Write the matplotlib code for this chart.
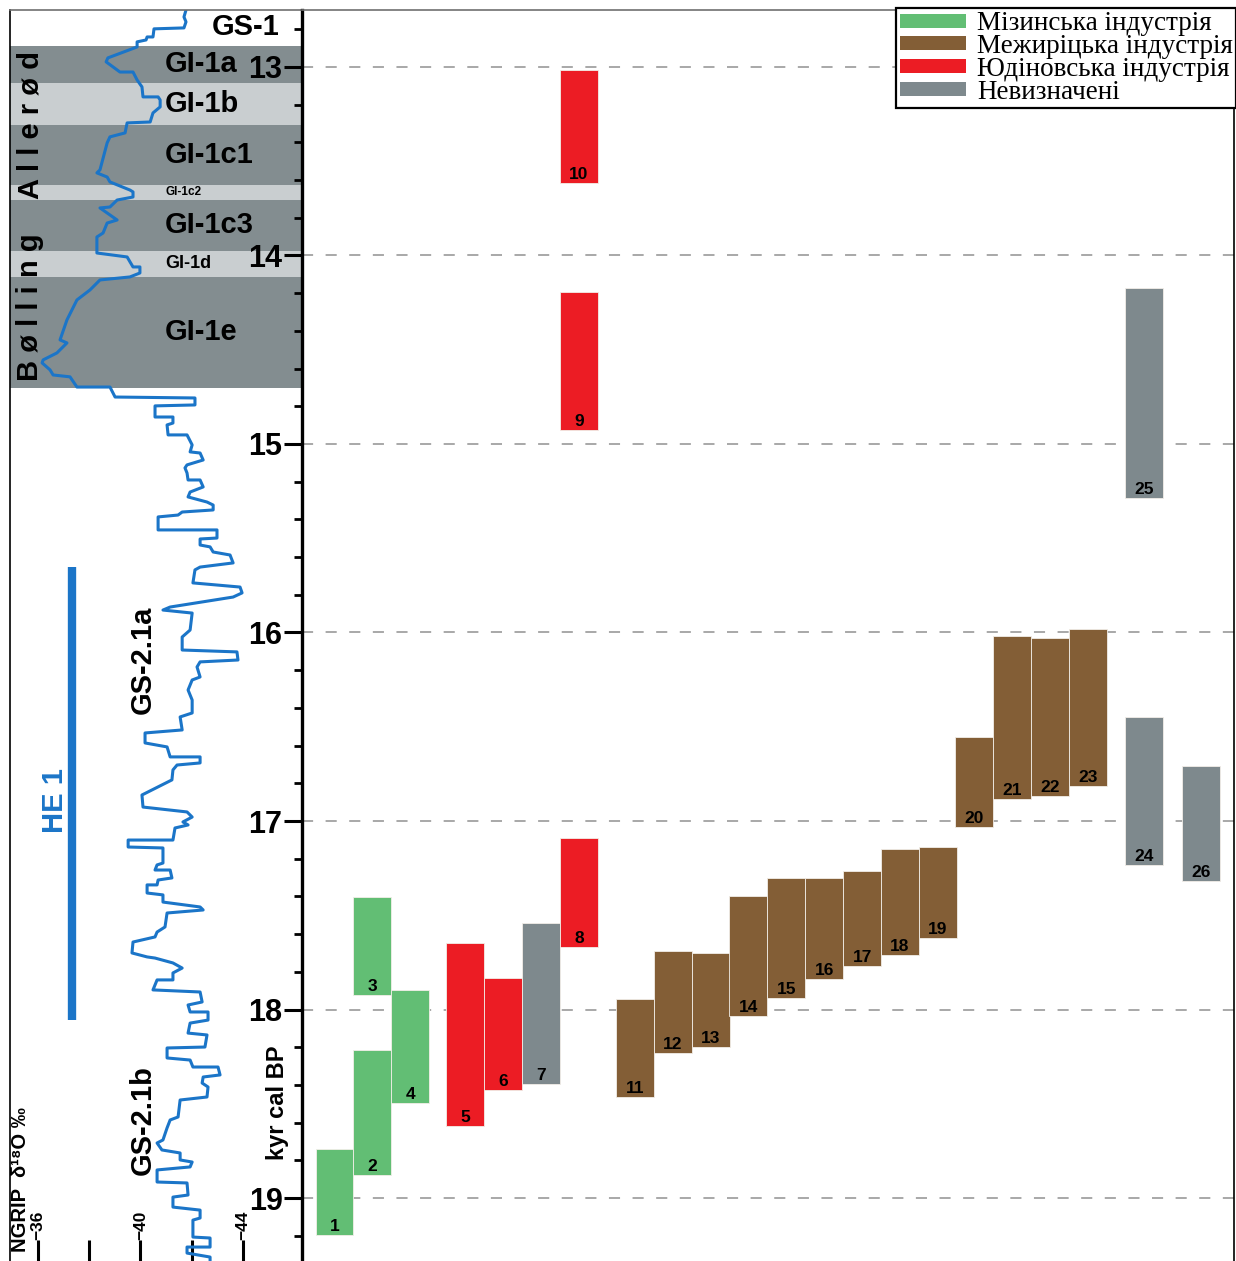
import matplotlib
matplotlib.use('Agg')
import matplotlib.pyplot as plt
from matplotlib.patches import Patch
from matplotlib.ticker import MultipleLocator

plt.rcParams['lines.scale_dashes'] = False

SANS = ['Liberation Sans', 'DejaVu Sans']
DIGITS = ['Liberation Sans Narrow', 'Liberation Sans', 'DejaVu Sans']
SERIF = ['Liberation Serif', 'DejaVu Serif']

# --- radiocarbon ranges of the sites (kyr cal BP) ---
site_ids = list(range(1, 27))
site_top = [18.74, 18.215, 17.403, 17.897, 17.647, 17.833, 17.541, 17.09, 14.194, 13.016,
            17.944, 17.69, 17.70, 17.398, 17.302, 17.302, 17.265, 17.149, 17.138, 16.554,
            16.019, 16.029, 15.981, 16.448, 14.172, 16.708]
site_bottom = [19.196, 18.878, 17.923, 18.496, 18.618, 18.427, 18.395, 17.668, 14.926, 13.615,
               18.464, 18.231, 18.199, 18.034, 17.939, 17.838, 17.769, 17.711, 17.621, 17.032,
               16.883, 16.867, 16.814, 17.233, 15.286, 17.318]
site_group = ['miz', 'miz', 'miz', 'miz', 'yud', 'yud', 'und', 'yud', 'yud', 'yud',
              'mezh', 'mezh', 'mezh', 'mezh', 'mezh', 'mezh', 'mezh', 'mezh', 'mezh', 'mezh',
              'mezh', 'mezh', 'mezh', 'und', 'und', 'und']

groups = ['miz', 'mezh', 'yud', 'und']
group_labels = ['Мізинська індустрія', 'Межиріцька індустрія',
                'Юдіновська індустрія', 'Невизначені']
group_colors = {'miz': '#62BE74', 'mezh': '#835E36', 'yud': '#EC1C24', 'und': '#7E898D'}

# horizontal slot of every bar (in bar widths)
bar_x = [0, 1, 1, 2, 3.45, 4.45, 5.45, 6.45, 6.45, 6.45, 7.92, 8.93, 9.93, 10.92, 11.92,
         12.92, 13.92, 14.92, 15.92, 16.87, 17.88, 18.88, 19.88, 21.36, 21.36, 22.85]

# --- Greenland interstadials ---
gi_names = ['GI-1a', 'GI-1b', 'GI-1c1', 'GI-1c2', 'GI-1c3', 'GI-1d', 'GI-1e']
gi_start = [12.889, 13.085, 13.308, 13.626, 13.706, 13.976, 14.114]
gi_end = [13.085, 13.308, 13.626, 13.706, 13.976, 14.114, 14.703]
gi_dark = [True, False, True, False, True, False, True]
gi_fsize = [21, 21, 21, 8.5, 21, 13, 21]

he1_start, he1_end = 15.653, 18.056

# --- NGRIP d18O record ---
ngrip_age = [12.698, 12.735, 12.761, 12.793, 12.798, 12.841, 12.841, 12.857, 12.867, 12.894,
             12.952, 12.973, 13.016, 13.027, 13.027, 13.069, 13.106, 13.159, 13.159, 13.175,
             13.212, 13.244, 13.292, 13.297, 13.350, 13.371, 13.403, 13.546, 13.562, 13.584,
             13.610, 13.653, 13.663, 13.690, 13.706, 13.743, 13.748, 13.812, 13.828, 13.881,
             13.902, 13.987, 14.008, 14.061, 14.061, 14.093, 14.114, 14.130, 14.183, 14.236,
             14.342, 14.448, 14.464, 14.517, 14.554, 14.570, 14.607, 14.634, 14.644, 14.698,
             14.698, 14.751, 14.756, 14.793, 14.798, 14.857, 14.857, 14.889, 14.899, 14.952,
             14.952, 15.005, 15.042, 15.048, 15.085, 15.111, 15.127, 15.154, 15.191, 15.191,
             15.228, 15.255, 15.281, 15.308, 15.324, 15.350, 15.361, 15.377, 15.387, 15.456,
             15.456, 15.499, 15.504, 15.536, 15.546, 15.573, 15.589, 15.631, 15.653, 15.668,
             15.737, 15.759, 15.790, 15.812, 15.865, 15.881, 15.897, 15.987, 16.024, 16.093,
             16.103, 16.146, 16.156, 16.183, 16.236, 16.252, 16.305, 16.358, 16.427, 16.448,
             16.517, 16.533, 16.586, 16.607, 16.660, 16.660, 16.692, 16.703, 16.729, 16.782,
             16.862, 16.926, 16.952, 16.979, 17.005, 17.021, 17.037, 17.101, 17.101, 17.138,
             17.143, 17.223, 17.233, 17.260, 17.260, 17.302, 17.313, 17.339, 17.339, 17.382,
             17.392, 17.430, 17.456, 17.472, 17.488, 17.562, 17.589, 17.615, 17.642, 17.700,
             17.721, 17.727, 17.753, 17.780, 17.806, 17.843, 17.843, 17.896, 17.907, 17.960,
             17.976, 18.013, 18.013, 18.056, 18.072, 18.125, 18.135, 18.199, 18.204, 18.257,
             18.268, 18.305, 18.305, 18.347, 18.358, 18.390, 18.411, 18.464, 18.480, 18.570,
             18.586, 18.628, 18.692, 18.708, 18.745, 18.761, 18.798, 18.809, 18.835, 18.851,
             18.915, 18.920, 18.984, 18.995, 19.048, 19.064, 19.106, 19.117, 19.207, 19.212,
             19.260, 19.260, 19.292, 19.313, 19.355]
ngrip_d18o = [-41.78, -41.70, -41.78, -41.70, -40.53, -40.49, -40.26, -40.22, -39.87, -39.87,
              -38.73, -38.66, -39.09, -39.20, -39.71, -39.87, -40.06, -40.10, -40.69, -40.77,
              -40.77, -40.49, -40.38, -39.48, -39.40, -38.81, -38.70, -38.42, -38.30, -38.70,
              -38.81, -39.59, -39.71, -39.71, -39.09, -38.81, -38.42, -39.09, -38.70, -38.54,
              -38.30, -38.30, -39.48, -39.71, -39.98, -39.98, -39.59, -38.42, -38.03, -37.52,
              -37.13, -36.86, -37.13, -36.74, -36.20, -36.16, -36.47, -36.59, -37.25, -37.52,
              -38.81, -39.01, -42.13, -42.13, -40.57, -40.57, -41.27, -41.27, -41.04, -41.08,
              -41.82, -42.02, -41.94, -42.33, -42.45, -41.82, -41.74, -41.82, -41.86, -42.33,
              -42.45, -41.94, -41.86, -42.60, -42.84, -42.84, -41.63, -41.47, -40.69, -40.69,
              -42.99, -42.99, -42.33, -42.33, -42.72, -42.84, -43.50, -43.62, -42.33, -42.13,
              -42.05, -43.89, -43.97, -43.62, -41.16, -40.88, -42.02, -41.94, -41.63, -41.63,
              -43.77, -43.81, -42.33, -42.21, -42.33, -42.02, -41.86, -42.02, -42.02, -41.55,
              -41.63, -40.18, -40.18, -41.04, -41.16, -42.33, -42.33, -41.43, -41.27, -41.23,
              -40.06, -40.10, -41.82, -42.02, -41.66, -41.86, -41.35, -41.27, -39.52, -39.52,
              -40.88, -40.88, -40.65, -40.57, -41.16, -41.23, -40.69, -40.65, -40.26, -40.26,
              -40.88, -40.88, -42.33, -42.45, -41.04, -40.96, -40.65, -40.57, -39.71, -39.67,
              -40.26, -40.57, -41.27, -41.63, -41.27, -41.27, -40.65, -40.49, -42.33, -42.41,
              -41.86, -41.94, -42.64, -42.64, -41.94, -41.86, -42.60, -42.52, -41.04, -41.04,
              -41.94, -42.05, -43.03, -43.11, -42.45, -42.41, -42.64, -42.60, -41.55, -41.47,
              -41.16, -41.04, -40.88, -40.65, -40.84, -41.55, -41.55, -42.02, -41.94, -40.65,
              -40.65, -41.82, -41.86, -41.27, -41.27, -42.33, -42.33, -42.05, -42.05, -42.72,
              -42.72, -41.82, -41.82, -42.72, -42.72]

d18o_ticks = [-36, -38, -40, -42, -44]
d18o_labels = {-36: '−36', -40: '−40', -44: '−44'}

BLUE = '#1B75C8'
AGE_LIM = (19.334, 12.698)

fig = plt.figure(figsize=(12.36, 12.61), dpi=100)
ax0 = fig.add_axes([10 / 1236, 0, 292 / 1236, 1251 / 1261])
ax = fig.add_axes([302 / 1236, 0, 932 / 1236, 1251 / 1261])

# ---------------- NGRIP panel ----------------
ax0.set_ylim(*AGE_LIM)
ax0.set_xlim(-34.906, -46.31)
for name, a0, a1, dark, fs in zip(gi_names, gi_start, gi_end, gi_dark, gi_fsize):
    ax0.axhspan(a0, a1, color='#838D90' if dark else '#C9CED0', lw=0, zorder=0)
    ax0.text(-40.96, (a0 + a1) / 2, name, fontsize=fs, fontweight='bold',
             family=SANS, ha='left', va='center', zorder=3)

ax0.plot(ngrip_d18o, ngrip_age, color=BLUE, lw=2.2, zorder=2)
ax0.plot([-37.33, -37.33], [he1_start, he1_end], color=BLUE, lw=6, solid_capstyle='butt')

ax0.text(-44.09, 12.79, 'GS-1', fontsize=21, fontweight='bold', family=SANS,
         ha='center', va='center')
ax0.text(-35.69, 14.273, 'B ø l l i n g', fontsize=21, fontweight='bold', family=SANS,
         rotation=90, ha='center', va='center')
ax0.text(-35.69, 13.308, 'A l l e r ø d', fontsize=21, fontweight='bold', family=SANS,
         rotation=90, ha='center', va='center')
ax0.text(-36.66, 16.889, 'HE 1', fontsize=21, fontweight='bold', family=SANS,
         color=BLUE, rotation=90, ha='center', va='center')
ax0.text(-40.10, 16.146, 'GS-2.1a', fontsize=21, fontweight='bold', family=SANS,
         rotation=90, ha='center', va='center')
ax0.text(-40.10, 18.586, 'GS-2.1b', fontsize=21, fontweight='bold', family=SANS,
         rotation=90, ha='center', va='center')
ax0.text(-35.3, 18.52, 'NGRIP  δ¹⁸O ‰', fontsize=14.5, fontweight='bold', family=SANS,
         rotation=90, ha='center', va='top')

ax0.set_xticks(d18o_ticks)
ax0.tick_params(axis='x', direction='in', length=15, width=2.2, labelbottom=False)
ax0.set_yticks([])
for v, lab in d18o_labels.items():
    ax0.text(v, 19.225, lab, fontsize=12.5, fontweight='bold', family=DIGITS,
             rotation=90, ha='center', va='bottom')

ax0.spines['right'].set_visible(False)
ax0.spines['bottom'].set_visible(False)
ax0.spines['left'].set_linewidth(1.2)
ax0.spines['top'].set_color('#707070')
ax0.spines['top'].set_linewidth(1.2)

# ---------------- sites panel ----------------
ax.set_ylim(*AGE_LIM)
ax.set_xlim(-0.857, 23.73)
ax.patch.set_alpha(0)

for i in range(len(site_ids)):
    h = site_bottom[i] - site_top[i]
    ax.bar(bar_x[i], h, bottom=site_top[i], width=1.0,
           color=group_colors[site_group[i]], edgecolor='#F2EEE8', linewidth=0.6, zorder=2)
    ax.annotate(str(site_ids[i]), (bar_x[i], site_bottom[i]), xytext=(0, 0.5),
                textcoords='offset points', ha='center', va='bottom',
                fontsize=12.5, fontweight='bold', family=DIGITS, zorder=3)

ax.yaxis.set_major_locator(MultipleLocator(1))
ax.yaxis.set_minor_locator(MultipleLocator(0.2))
ax.grid(axis='y', which='major', color='#A8A8A8', lw=1.4, linestyle=(0, (8, 9)))
ax.set_axisbelow(True)
ax.set_xticks([])
ax.tick_params(axis='y', which='major', direction='out', length=13, width=2.2, pad=1)
ax.tick_params(axis='y', which='minor', direction='out', length=6, width=2)
for t in ax.get_yticklabels():
    t.set_fontsize(22)
    t.set_fontweight('bold')
    t.set_family(DIGITS)

ax.set_ylabel('kyr cal BP', fontsize=17, fontweight='bold', family=SANS, va='center')
ax.yaxis.set_label_coords(-0.0258, 0.1263)

ax.spines['bottom'].set_visible(False)
ax.spines['left'].set_linewidth(2.4)
ax.spines['right'].set_linewidth(1.2)
ax.spines['top'].set_color('#707070')
ax.spines['top'].set_linewidth(1.2)

handles = [Patch(facecolor=group_colors[g], edgecolor='none') for g in groups]
leg = fig.legend(handles, group_labels, loc='upper right',
                 bbox_to_anchor=(1.0, 1 - 8 / 1261), bbox_transform=fig.transFigure,
                 fancybox=False, edgecolor='black', framealpha=1, borderaxespad=0,
                 borderpad=0.12, labelspacing=-0.08, handlelength=2.45, handleheight=0.42,
                 handletextpad=0.4, prop={'family': SERIF, 'size': 19.5})
leg.get_frame().set_linewidth(1.6)

fig.savefig('out.png', dpi=100)
